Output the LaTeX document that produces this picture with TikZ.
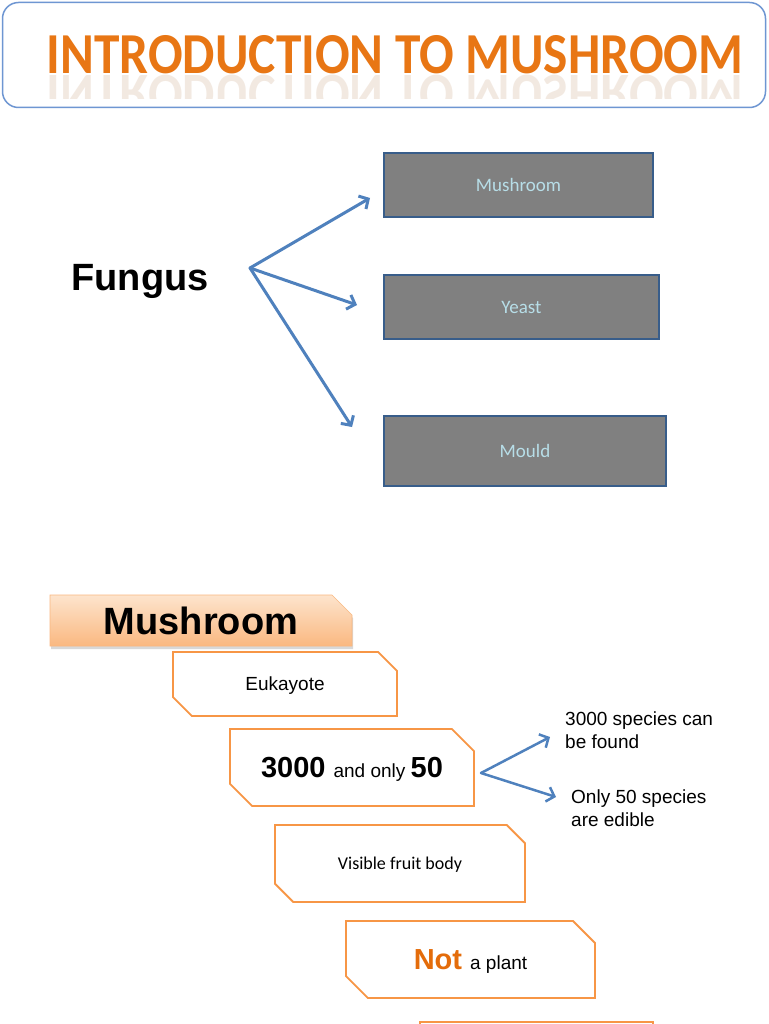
\documentclass[tikz,border=0pt]{standalone}
\usepackage{fontspec}
\setmainfont{Liberation Sans}
\newfontfamily\calibri{Carlito}
\usepackage{xcolor}
\usetikzlibrary{shapes.misc, arrows.meta, shadows, positioning}

\definecolor{titleblue}{RGB}{110,150,210}
\definecolor{titleorange}{RGB}{232,118,20}
\definecolor{arrowblue}{RGB}{79,129,189}
\definecolor{boxgrey}{RGB}{128,128,128}
\definecolor{boxedge}{RGB}{56,93,138}
\definecolor{paleblue}{RGB}{183,222,232}
\definecolor{snipedge}{RGB}{247,150,70}
\definecolor{notorange}{RGB}{228,108,10}
\definecolor{peachtop}{RGB}{253,228,205}
\definecolor{peachbot}{RGB}{250,184,128}

\newcommand{\fsz}[1]{\fontsize{#1}{#1}\selectfont}

\tikzset{
  greybox/.style={draw=boxedge, line width=1.5pt, fill=boxgrey, text=paleblue,
    font=\calibri\fsz{19}, inner sep=0pt},
  snipbox/.style={chamfered rectangle, chamfered rectangle corners={north east, south west},
    chamfered rectangle xsep=12pt, chamfered rectangle ysep=12pt,
    draw=snipedge, line width=1.8pt, fill=white, inner sep=0pt, text depth=0pt,
    font=\fsz{19}},
  branch/.style={draw=arrowblue, line width=3pt, line cap=round, ->,
    >={Straight Barb[length=7pt,width=15pt]}},
  note/.style={align=left, anchor=west, inner sep=0pt, font=\fontsize{19}{23}\selectfont}
}

\begin{document}
\begin{tikzpicture}[x=1pt, y=-1pt]
  \useasboundingbox (0,0) rectangle (768,1024);
  \clip (0,0) rectangle (768,1024);
  \fill[white] (0,0) rectangle (768,1024);

  % title banner
  \node[draw=titleblue, line width=1.5pt, rounded corners=16pt, fill=white,
    minimum width=763pt, minimum height=105pt] (banner) at (384,55) {};
  \node[text=titleorange, font=\calibri\bfseries\fsz{58}, xscale=0.885, inner sep=0pt] (title)
    at (395,55) {INTRODUCTION TO MUSHROOM};
  \begin{scope}
    \clip (40,75) rectangle (750,99);
    \node[text=titleorange!50!gray, text opacity=0.16, font=\calibri\bfseries\fsz{58},
      xscale=0.885, yscale=-1, inner sep=0pt] (mirror) at (395,94) {INTRODUCTION TO MUSHROOM};
  \end{scope}

  % fungus and its three kinds
  \node[anchor=base, font=\bfseries\fsz{38}, inner sep=0pt] (fungus) at (140,290) {Fungus};
  \node[greybox, minimum width=269pt, minimum height=64pt] (mush) at (518.5,185) {Mushroom};
  \node[greybox, minimum width=275pt, minimum height=64pt] (yeast) at (521.5,307) {Yeast};
  \node[greybox, minimum width=282pt, minimum height=70pt] (mould) at (525,451) {Mould};

  \coordinate (fork) at (250,268);
  \coordinate (toMush) at (370,198);
  \coordinate (toYeast) at (357,305);
  \coordinate (toMould) at (352,427);
  \draw[branch] (fork) -- (toMush);
  \draw[branch] (fork) -- (toYeast);
  \draw[branch] (fork) -- (toMould);

  % mushroom facts
  \node[chamfered rectangle, chamfered rectangle corners=north east,
    chamfered rectangle xsep=10pt, chamfered rectangle ysep=10pt,
    top color=peachtop, bottom color=peachbot, draw=peachbot, line width=0.6pt,
    drop shadow={shadow xshift=1pt, shadow yshift=-3pt, opacity=0.3},
    minimum width=302pt, minimum height=51pt, inner sep=0pt,
    font=\bfseries\fsz{38}] (header) at (201,620.5) {Mushroom};

  \node[snipbox, minimum width=224pt, minimum height=64pt] (euk) at (285,684) {Eukayote};
  \node[snipbox, minimum width=244pt, minimum height=77pt] (count) at (352,767.5)
    {\fsz{29}\textbf{3000} \fsz{19}and only \fsz{29}\textbf{50}};
  \node[snipbox, minimum width=250pt, minimum height=77pt, font=\calibri\fsz{18}] (fruit)
    at (400,863.5) {Visible fruit body};
  \node[snipbox, minimum width=249pt, minimum height=77pt] (plant) at (470.5,959.5)
    {\fsz{29}\textbf{\color{notorange}Not} \fsz{19}a plant};
  \node[snipbox, minimum width=233pt, minimum height=77pt] (more) at (536.5,1060.5) {};

  \node[note] (found) at (565,730.5) {3000 species can\\be found};
  \node[note] (edible) at (571,808) {Only 50 species\\are edible};

  \coordinate (split) at (481,773);
  \coordinate (toFound) at (550,737);
  \coordinate (toEdible) at (556,797);
  \draw[branch, line width=2.5pt] (split) -- (toFound);
  \draw[branch, line width=2.5pt] (split) -- (toEdible);
\end{tikzpicture}
\end{document}
